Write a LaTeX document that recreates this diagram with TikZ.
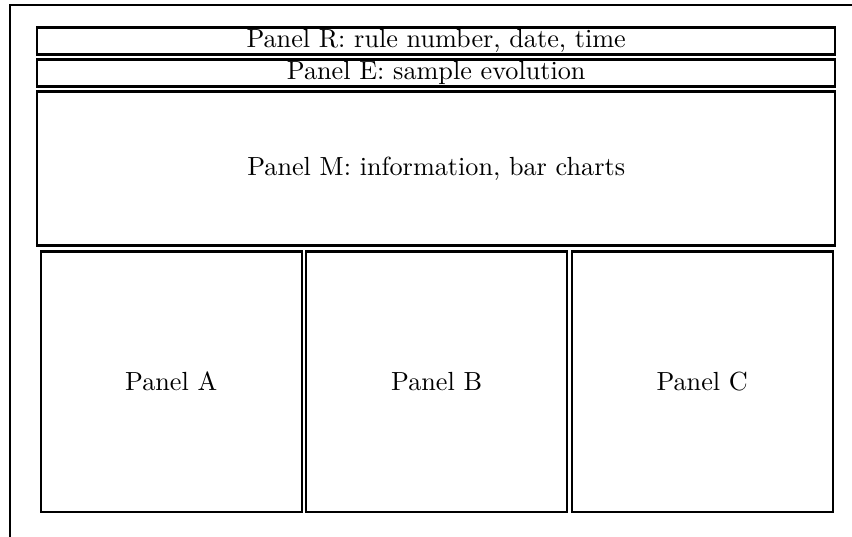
\documentclass[tikz,border=0pt]{standalone}
\newcommand\pantext[1]{\scalebox{2.62}{\fontsize{10}{12}\selectfont #1}}
\begin{document}
\begin{tikzpicture}[x=1pt,y=-1pt,
  panel/.style={draw,line width=2.4pt,inner sep=0pt,anchor=north west},
  frame/.style={line width=2pt}]
\useasboundingbox (0,0) rectangle (852,537);
\coordinate (ftop) at (852,5);
\coordinate (fcorner) at (10,5);
\coordinate (fbot) at (10,537);
\draw[frame] (ftop) -- (fcorner) -- (fbot);
\node[panel,minimum width=798pt,minimum height=27pt] (R) at (36,26.5) {\pantext{Panel R: rule number, date, time}};
\node[panel,minimum width=798pt,minimum height=27pt] (E) at (36,58.5) {\pantext{Panel E: sample evolution}};
\node[panel,minimum width=798pt,minimum height=154pt] (M) at (36,90.5) {\pantext{Panel M: information, bar charts}};
\node[panel,minimum width=261pt,minimum height=260pt] (A) at (39.5,250.5) {\pantext{Panel A}};
\node[panel,minimum width=261pt,minimum height=260pt] (B) at (305,250.5) {\pantext{Panel B}};
\node[panel,minimum width=261pt,minimum height=260pt] (C) at (570.5,250.5) {\pantext{Panel C}};
\end{tikzpicture}
\end{document}
